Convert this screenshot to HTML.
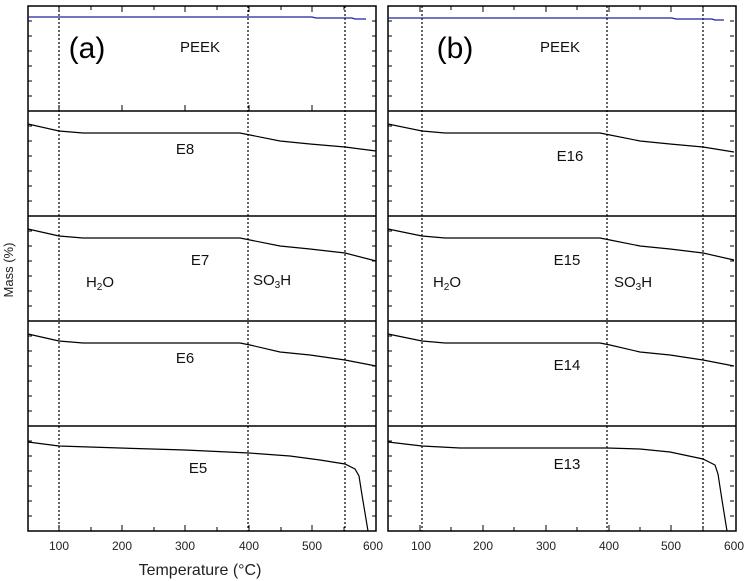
<!DOCTYPE html><html><head><style>body{margin:0;background:#fff}svg{display:block}</style></head><body>
<svg width="750" height="581" xmlns="http://www.w3.org/2000/svg" font-family="Liberation Sans, Arial, sans-serif">
<defs>
<g id="frame" fill="none" stroke="#000">
<g stroke-width="1.5">
<rect x="0" y="0" width="348" height="525"/>
<line x1="0" y1="105" x2="348" y2="105"/><line x1="0" y1="210" x2="348" y2="210"/><line x1="0" y1="315" x2="348" y2="315"/><line x1="0" y1="420" x2="348" y2="420"/>
</g>
</g>
</defs>
<g transform="translate(28,6)"><use href="#frame"/></g>
<g stroke="#000" stroke-dasharray="2,2" stroke-width="1.2">
<line x1="59" y1="6" x2="59" y2="531"/><line x1="248" y1="6" x2="248" y2="531"/><line x1="345" y1="6" x2="345" y2="531"/>
<line x1="422" y1="6" x2="422" y2="531"/><line x1="607" y1="6" x2="607" y2="531"/><line x1="703" y1="6" x2="703" y2="531"/>
</g>
<g transform="translate(388,6)"><use href="#frame"/></g>
<g fill="none" stroke-width="1.2">
<path stroke="#2020a0" d="M28,17 L312,17 L316,18 L352,18 L355,19 L366,19"/>
<path stroke="#000" d="M28,124 L59,131 L83,133 L240,133 L250,135 L280,141 L310,144 L345,147 L376,151"/>
<path stroke="#000" d="M28,229 L59,236 L83,238 L240,238 L250,240 L280,246 L310,249 L345,253 L376,261"/>
<path stroke="#000" d="M28,334 L59,341 L83,343 L240,343 L250,345 L280,352 L310,355 L345,360 L376,366"/>
<path stroke="#000" d="M28,442 L59,446 L120,448 L185,450 L249,453 L290,456 L320,460 L345,464 L355,469 L359,476 L362,495 L368,531"/>
<path stroke="#2020a0" d="M388,18 L672,18 L676,19 L712,19 L715,20 L724,20"/>
<path stroke="#000" d="M388,124 L422,131 L445,133 L600,133 L610,135 L640,141 L670,144 L703,147 L734,152"/>
<path stroke="#000" d="M388,229 L422,236 L445,238 L600,238 L610,240 L640,246 L670,249 L703,253 L734,260"/>
<path stroke="#000" d="M388,334 L422,341 L445,343 L600,343 L610,345 L640,352 L670,355 L703,360 L734,366"/>
<path stroke="#000" d="M388,442 L422,446 L460,448 L607,448 L640,449 L670,452 L703,459 L715,465 L718,474 L722,500 L727,531"/>
</g>
<g stroke="#000" stroke-width="1">
<path d="M28,21h4M28,36h4M28,51h4M28,66h4M28,81h4M28,96h4 M28,126h4M28,141h4M28,156h4M28,171h4M28,186h4M28,201h4 M28,231h4M28,246h4M28,261h4M28,276h4M28,291h4M28,306h4 M28,336h4M28,351h4M28,366h4M28,381h4M28,396h4M28,411h4 M28,441h4M28,456h4M28,471h4M28,486h4M28,501h4M28,516h4"/>
<path d="M376,21h-4M376,36h-4M376,51h-4M376,66h-4M376,81h-4M376,96h-4 M376,126h-4M376,141h-4M376,156h-4M376,171h-4M376,186h-4M376,201h-4 M376,231h-4M376,246h-4M376,261h-4M376,276h-4M376,291h-4M376,306h-4 M376,336h-4M376,351h-4M376,366h-4M376,381h-4M376,396h-4M376,411h-4 M376,441h-4M376,456h-4M376,471h-4M376,486h-4M376,501h-4M376,516h-4"/>
<path d="M388,21h4M388,36h4M388,51h4M388,66h4M388,81h4M388,96h4 M388,126h4M388,141h4M388,156h4M388,171h4M388,186h4M388,201h4 M388,231h4M388,246h4M388,261h4M388,276h4M388,291h4M388,306h4 M388,336h4M388,351h4M388,366h4M388,381h4M388,396h4M388,411h4 M388,441h4M388,456h4M388,471h4M388,486h4M388,501h4M388,516h4"/>
<path d="M734,21h-4M734,36h-4M734,51h-4M734,66h-4M734,81h-4M734,96h-4 M734,126h-4M734,141h-4M734,156h-4M734,171h-4M734,186h-4M734,201h-4 M734,231h-4M734,246h-4M734,261h-4M734,276h-4M734,291h-4M734,306h-4 M734,336h-4M734,351h-4M734,366h-4M734,381h-4M734,396h-4M734,411h-4 M734,441h-4M734,456h-4M734,471h-4M734,486h-4M734,501h-4M734,516h-4"/>
<path d="M59,531v-6M91,531v-4M122,531v-6M154,531v-4M185,531v-6M217,531v-4M249,531v-6M281,531v-4M312,531v-6M344,531v-4 M59,6v6M91,6v4M122,6v6M154,6v4M185,6v6M217,6v4M249,6v6M281,6v4M312,6v6M344,6v4 M59,111v-6M122,111v-6M185,111v-6M249,111v-6M312,111v-6"/>
<path d="M420,531v-6M451,531v-4M483,531v-6M514,531v-4M546,531v-6M577,531v-4M609,531v-6M640,531v-4M671,531v-6M703,531v-4 M420,6v6M451,6v4M483,6v6M514,6v4M546,6v6M577,6v4M609,6v6M640,6v4M671,6v6M703,6v4"/>
</g>
<g font-size="12" fill="#222" text-anchor="middle">
<text x="59" y="550">100</text><text x="122" y="550">200</text><text x="185" y="550">300</text><text x="249" y="550">400</text><text x="312" y="550">500</text><text x="373" y="550">600</text>
<text x="421" y="550">100</text><text x="483" y="550">200</text><text x="546" y="550">300</text><text x="609" y="550">400</text><text x="671" y="550">500</text><text x="734" y="550">600</text>
</g>
<text x="200" y="575" font-size="16" text-anchor="middle" fill="#222">Temperature (°C)</text>
<text transform="translate(13,270) rotate(-90)" font-size="13" text-anchor="middle" fill="#222">Mass (%)</text>
<g font-size="15" fill="#111" text-anchor="middle">
<text x="200" y="52">PEEK</text><text x="185" y="154">E8</text><text x="200" y="265">E7</text><text x="185" y="363">E6</text><text x="198" y="473">E5</text>
<text x="560" y="52">PEEK</text><text x="570" y="161">E16</text><text x="567" y="265">E15</text><text x="567" y="370">E14</text><text x="567" y="469">E13</text>
<text x="100" y="287">H<tspan font-size="10" dy="3">2</tspan><tspan dy="-3">O</tspan></text>
<text x="272" y="285">SO<tspan font-size="10" dy="3">3</tspan><tspan dy="-3">H</tspan></text>
<text x="447" y="287">H<tspan font-size="10" dy="3">2</tspan><tspan dy="-3">O</tspan></text>
<text x="633" y="287">SO<tspan font-size="10" dy="3">3</tspan><tspan dy="-3">H</tspan></text>
</g>
<text x="87" y="58" font-size="30" text-anchor="middle" fill="#000">(a)</text>
<text x="455" y="58" font-size="30" text-anchor="middle" fill="#000">(b)</text>
</svg>
</body></html>
